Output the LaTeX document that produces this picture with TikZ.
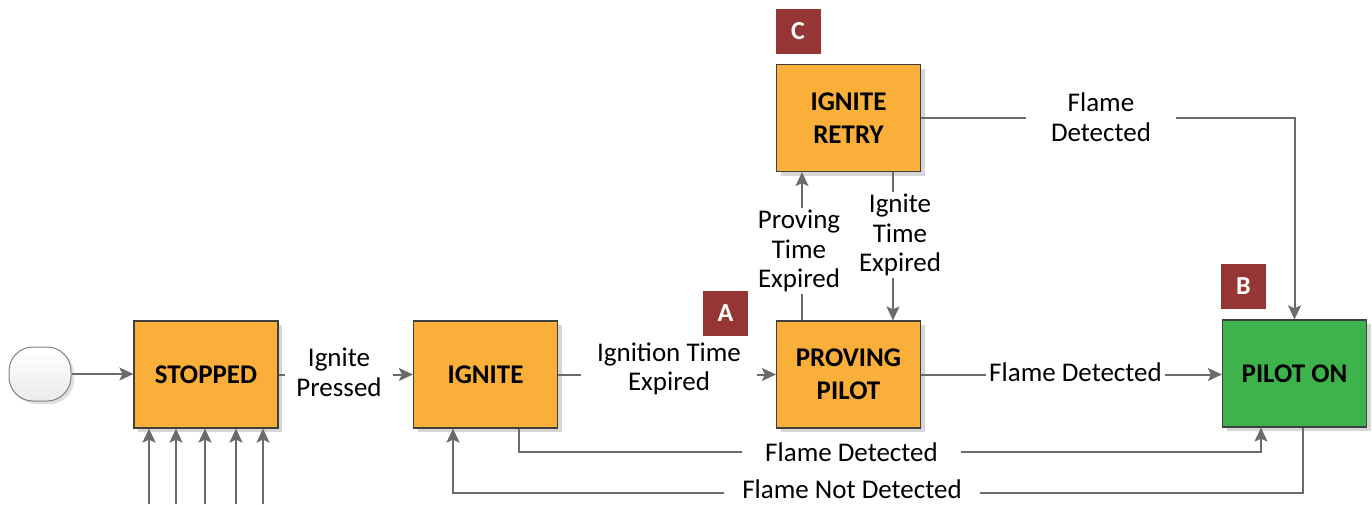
\documentclass[tikz,border=0pt]{standalone}
\usepackage{fontspec}
\setmainfont{Carlito}
\usetikzlibrary{arrows.meta,shadows}
\definecolor{orng}{HTML}{F9AF3A}
\definecolor{grn}{HTML}{3CB44B}
\definecolor{badgered}{HTML}{963634}
\definecolor{connc}{HTML}{6B6B6B}
\definecolor{edgec}{HTML}{3F3F3F}
\begin{document}
\begin{tikzpicture}[x=0.5pt,y=-0.5pt,
 state/.style={draw=edgec, line width=0.6pt, minimum width=72pt, minimum height=53.5pt, inner sep=0pt, align=center,
   font=\bfseries\fontsize{13.5}{16.5}\selectfont,
   drop shadow={shadow xshift=2pt,shadow yshift=-2pt,fill=black!16,opacity=1}},
 orangebox/.style={state, fill=orng},
 greenbox/.style={state, fill=grn},
 startbox/.style={draw=black!50, line width=0.5pt, rounded corners=12pt, minimum width=31pt, minimum height=27pt,
   top color=white, bottom color=black!8,
   drop shadow={shadow xshift=1.5pt,shadow yshift=-1.5pt,fill=black!12,opacity=1}},
 badge/.style={fill=badgered, text=white, minimum width=22.5pt, minimum height=22.5pt, inner sep=0pt,
   font=\bfseries\fontsize{13}{15}\selectfont},
 lbl/.style={align=center, inner sep=0pt, font=\fontsize{13.5}{14.75}\selectfont},
 conn/.style={draw=connc, line width=1pt},
 arr/.style={conn, -{Stealth[length=7pt,width=6.5pt,inset=1.5pt]}}
]
\useasboundingbox (0,0) rectangle (1372,504);

% states
\node[startbox] (start) at (40,374) {};
\node[orangebox] (stopped) at (206,374.5) {STOPPED};
\node[orangebox] (ignite) at (485.5,374.5) {IGNITE};
\node[orangebox] (proving) at (848.5,374.5) {PROVING\\PILOT};
\node[orangebox] (retry) at (848.5,118) {IGNITE\\RETRY};
\node[greenbox] (pilot) at (1294.5,373.5) {PILOT ON};

% badges
\node[badge] (ba) at (725.5,313.5) {A};
\node[badge] (bc) at (798,31.5) {C};
\node[badge] (bb) at (1243.5,286.5) {B};

% labels
\node[lbl, inner xsep=5.5pt] (lp) at (339,372.5) {Ignite\\Pressed};
\node[lbl, inner xsep=8pt] (lit) at (669,369) {Ignition Time\\Expired};
\node[lbl, inner xsep=1.5pt] (lfd1) at (1075.5,372) {Flame Detected};
\node[lbl, inner xsep=12.5pt] (lfd2) at (1101,117) {Flame\\Detected};
\node[lbl, inner ysep=1pt] (lpt) at (799,251) {Proving\\Time\\Expired};
\node[lbl, inner ysep=1pt] (lit2) at (900,235) {Ignite\\Time\\Expired};
\node[lbl, inner xsep=11.5pt] (lfd3) at (851.5,452) {Flame Detected};
\node[lbl, inner xsep=9pt] (lfnd) at (852,489) {Flame Not Detected};

% helper coordinates
\coordinate (xp) at (802,0);
\coordinate (xi) at (893,0);
\coordinate (xi2) at (519,0);
\coordinate (xp2) at (1261,0);
\coordinate (xo) at (1303,0);
\coordinate (xg) at (453,0);
\coordinate (ybot) at (0,493);

% connectors
\draw[arr] (start.east) -- (stopped.west |- start.east);
\draw[conn] (stopped.east) -- (lp.west |- stopped.east);
\draw[arr] (lp.east |- stopped.east) -- (ignite.west);
\draw[conn] (ignite.east) -- (lit.west |- ignite.east);
\draw[arr] (lit.east |- ignite.east) -- (proving.west);
\draw[conn] (proving.east) -- (lfd1.west |- proving.east);
\draw[arr] (lfd1.east |- proving.east) -- (pilot.west |- proving.east);
\draw[conn] (retry.east) -- (retry.east -| lfd2.west);
\draw[arr] (retry.east -| lfd2.east) -| (pilot.north);
\draw[conn] (proving.north -| xp) -- (lpt.south -| xp);
\draw[arr] (lpt.north -| xp) -- (retry.south -| xp);
\draw[conn] (retry.south -| xi) -- (lit2.north -| xi);
\draw[arr] (lit2.south -| xi) -- (proving.north -| xi);
\draw[conn] (ignite.south -| xi2) |- (lfd3.west);
\draw[arr] (lfd3.east) -| (pilot.south -| xp2);
\draw[conn] (pilot.south -| xo) |- (lfnd.east |- ybot);
\draw[arr] (lfnd.west |- ybot) -| (ignite.south -| xg);

\foreach \i/\x in {1/149,2/176,3/205,4/236,5/263}{
  \coordinate (b\i) at (\x,504);
  \draw[arr] (b\i) -- (b\i |- stopped.south);
}
\end{tikzpicture}
\end{document}
